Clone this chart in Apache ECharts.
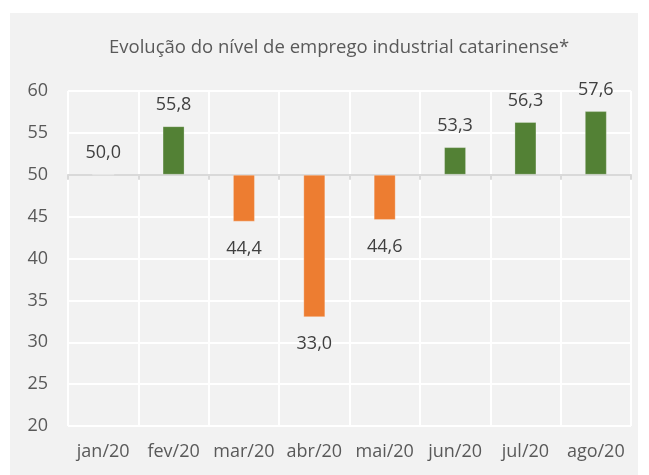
<!DOCTYPE html>
<html>
<head>
<meta charset="utf-8">
<script src="https://cdn.jsdelivr.net/npm/echarts@6/dist/echarts.min.js"></script>
<style>
  html, body { margin: 0; padding: 0; background: #fff; }
  #chart { width: 649px; height: 475px; }
</style>
</head>
<body>
<div id="chart"></div>
<script>
// categories and values (nível de emprego)
const months = ['jan/20', 'fev/20', 'mar/20', 'abr/20', 'mai/20', 'jun/20', 'jul/20', 'ago/20']
const values = [50.0, 55.8, 44.4, 33.0, 44.6, 53.3, 56.3, 57.6]
const BASE = 50 // bars grow from 50

const GREEN = '#538135'
const ORANGE = '#ed7d31'
const FONT = 'Open Sans'

let chart = echarts.init(document.getElementById('chart'))

let barData = values.map(v => {
  let up = v >= BASE
  return {
    value: +(v - BASE).toFixed(1),
    itemStyle: { color: up ? GREEN : ORANGE },
    label: { position: up ? 'top' : 'bottom', distance: up ? 12 : 18 }
  }
})

let opts = {
  backgroundColor: '#fff',
  textStyle: { fontFamily: FONT },
  graphic: [{
    type: 'rect',
    z: -10,
    shape: { x: 10, y: 13, width: 628, height: 462 },
    style: { fill: '#f2f2f2' }
  }],
  title: {
    text: 'Evolução do nível de emprego industrial catarinense*',
    left: 104,
    top: 33,
    textStyle: { fontFamily: FONT, fontSize: 18.5, fontWeight: 'normal', color: '#595959' }
  },
  grid: { left: 68, right: 18, top: 91, bottom: 49 },
  xAxis: [
    { // labels + vertical gridlines at the bottom
      type: 'category',
      data: months,
      position: 'bottom',
      axisLine: { show: false, onZero: false },
      axisTick: { show: false },
      splitLine: { show: true, interval: 0, lineStyle: { color: '#fff', width: 2 } },
      axisLabel: { interval: 0, color: '#595959', fontSize: 18, fontFamily: FONT, margin: 17 }
    },
    { // baseline at 50
      type: 'category',
      data: months,
      position: 'top',
      axisLine: { show: true, onZero: true, lineStyle: { color: '#d9d9d9', width: 2 } },
      axisTick: { show: true, interval: 0, inside: true, length: 5, lineStyle: { color: '#d9d9d9', width: 2 } },
      axisLabel: { show: false },
      splitLine: { show: false }
    }
  ],
  yAxis: {
    type: 'value',
    min: -30,
    max: 10,
    interval: 5,
    axisLine: { show: false },
    axisTick: { show: false },
    splitLine: { lineStyle: { color: '#fff', width: 2 } },
    axisLabel: {
      color: '#595959',
      fontSize: 18,
      fontFamily: FONT,
      margin: 20,
      formatter: v => String(v + BASE)
    }
  },
  series: [{
    type: 'bar',
    xAxisIndex: 0,
    barWidth: 22,
    data: barData,
    itemStyle: { borderColor: 'rgba(255,255,255,0.25)', borderWidth: 1 },
    label: {
      show: true,
      color: '#404040',
      fontSize: 18,
      fontFamily: FONT,
      formatter: p => values[p.dataIndex].toFixed(1).replace('.', ',')
    }
  }]
}

chart.setOption(opts)
</script>
</body>
</html>
